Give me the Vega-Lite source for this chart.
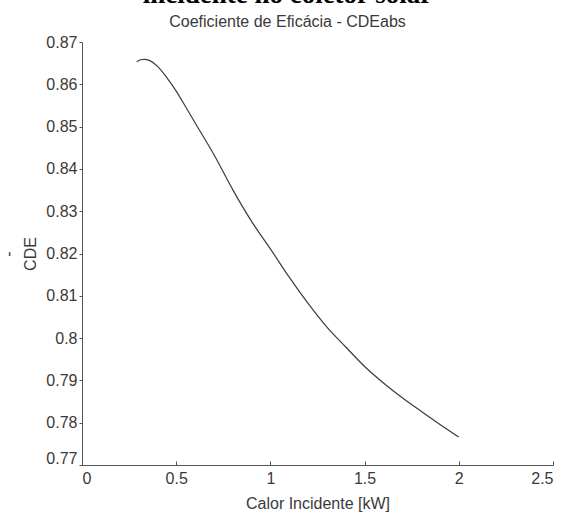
{
  "$schema": "https://vega.github.io/schema/vega-lite/v6.json",
  "width": 471,
  "height": 423,
  "autosize": {"type": "none"},
  "padding": {"left": 82, "top": 42, "right": 14, "bottom": 50},
  "background": "white",
  "title": {
    "text": "incidente no coletor solar",
    "subtitle": "Coeficiente de Eficácia - CDEabs",
    "font": "Liberation Serif",
    "fontSize": 27,
    "fontWeight": "bold",
    "color": "#000000",
    "subtitleFont": "Liberation Sans",
    "subtitleFontSize": 16,
    "subtitleColor": "#3a3a3a",
    "subtitlePadding": 5,
    "offset": 3,
    "dx": -30,
    "anchor": "middle"
  },
  "config": {
    "view": {"stroke": null},
    "axis": {
      "grid": false,
      "domainColor": "#555555",
      "tickColor": "#555555",
      "labelFont": "Liberation Sans",
      "labelFontSize": 16,
      "labelColor": "#3a3a3a",
      "titleFont": "Liberation Sans",
      "titleFontSize": 16,
      "titleFontWeight": "normal",
      "titleColor": "#3a3a3a"
    }
  },
  "data": {
    "values": [
      {"q": 0.29, "cde": 0.8653},
      {"q": 0.31, "cde": 0.8658},
      {"q": 0.33, "cde": 0.8659},
      {"q": 0.36, "cde": 0.8656},
      {"q": 0.40, "cde": 0.8643},
      {"q": 0.45, "cde": 0.8616},
      {"q": 0.50, "cde": 0.8584},
      {"q": 0.55, "cde": 0.8547},
      {"q": 0.60, "cde": 0.8509},
      {"q": 0.70, "cde": 0.8434},
      {"q": 0.80, "cde": 0.8351},
      {"q": 0.90, "cde": 0.8276},
      {"q": 1.00, "cde": 0.8211},
      {"q": 1.10, "cde": 0.8144},
      {"q": 1.20, "cde": 0.8082},
      {"q": 1.30, "cde": 0.8026},
      {"q": 1.40, "cde": 0.7979},
      {"q": 1.50, "cde": 0.7933},
      {"q": 1.60, "cde": 0.7894},
      {"q": 1.70, "cde": 0.7859},
      {"q": 1.80, "cde": 0.7827},
      {"q": 1.90, "cde": 0.7796},
      {"q": 2.00, "cde": 0.7766}
    ]
  },
  "mark": {"type": "line", "color": "#3c3c3c", "strokeWidth": 1.2, "interpolate": "monotone"},
  "encoding": {
    "x": {
      "field": "q",
      "type": "quantitative",
      "scale": {"domain": [0, 2.5], "nice": false, "zero": false},
      "axis": {
        "title": "Calor Incidente [kW]",
        "values": [0, 0.5, 1, 1.5, 2, 2.5],
        "format": "~g",
        "tickSize": -4,
        "labelPadding": 9,
        "titlePadding": 9
      }
    },
    "y": {
      "field": "cde",
      "type": "quantitative",
      "scale": {"domain": [0.77, 0.87], "nice": false, "zero": false},
      "axis": {
        "title": ["-", "CDE"],
        "titleLineHeight": 22,
        "values": [0.77, 0.78, 0.79, 0.8, 0.81, 0.82, 0.83, 0.84, 0.85, 0.86, 0.87],
        "format": "~g",
        "tickSize": 3,
        "labelPadding": 2,
        "labelOffset": {"condition": {"test": "datum.value < 0.775", "value": -7}, "value": 0},
        "titlePadding": 7
      }
    }
  }
}
